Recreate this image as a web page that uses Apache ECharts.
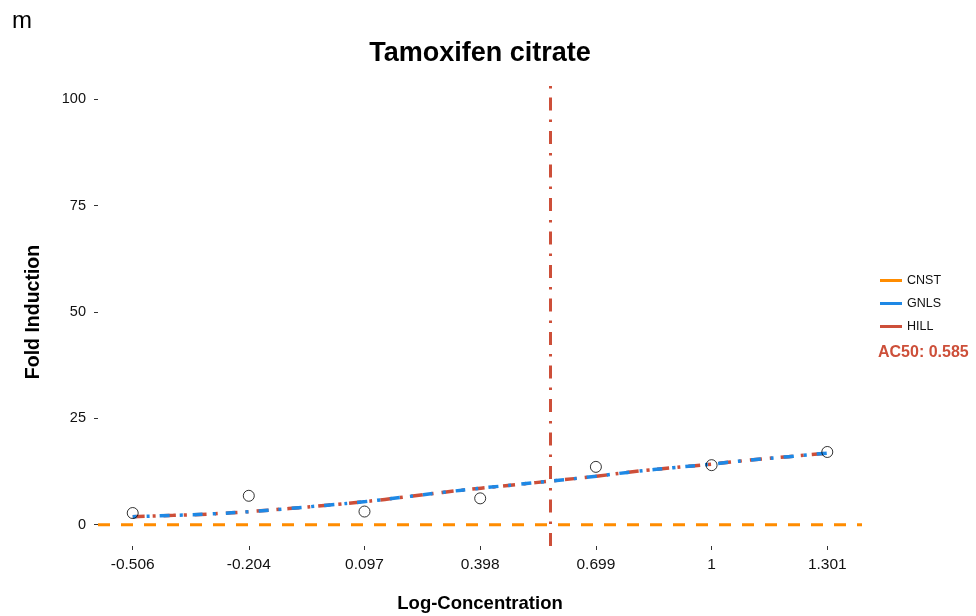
<!DOCTYPE html>
<html>
<head>
<meta charset="utf-8">
<script src="https://cdn.jsdelivr.net/npm/echarts@6/dist/echarts.min.js"></script>
<style>html,body{margin:0;padding:0;background:#fff;}#c{width:976px;height:616px;}</style>
</head>
<body>
<div id="c"></div>
<script>
var xTicks = [-0.506, -0.204, 0.097, 0.398, 0.699, 1, 1.301];
var xTickLabels = ['-0.506', '-0.204', '0.097', '0.398', '0.699', '1', '1.301'];
var yTicks = [0, 25, 50, 75, 100];
var pointX = [-0.506, -0.204, 0.097, 0.398, 0.699, 1, 1.301];
var pointY = [2.75, 6.8, 3.1, 6.2, 13.6, 14.0, 17.1];
var curveX = [-0.506, -0.4, -0.3, -0.2, -0.1, 0, 0.1, 0.2, 0.3, 0.4, 0.5, 0.585, 0.7, 0.8, 0.9, 1.0, 1.1, 1.2, 1.301];
var gnlsY = [1.9, 2.2, 2.55, 3.1, 3.8, 4.6, 5.45, 6.5, 7.6, 8.6, 9.5, 10.3, 11.4, 12.5, 13.4, 14.25, 15.2, 16.0, 16.83];
var hillY = [1.9, 2.2, 2.55, 3.1, 3.8, 4.6, 5.45, 6.5, 7.6, 8.6, 9.5, 10.3, 11.4, 12.5, 13.4, 14.25, 15.2, 16.0, 16.83];
var cnstLevel = 0;
var ac50 = 0.585;
var xRange = [-0.5963, 1.3913];
var yRange = [-5, 105];

var FONT = 'Liberation Sans, Arial, Helvetica, sans-serif';
var ORANGE = '#FF8C00', BLUE = '#1E88E5', RED = '#CD4F39';

function pairs(xs, ys) { return xs.map(function (x, i) { return [x, ys[i]]; }); }

var chart = echarts.init(document.getElementById('c'), null, { renderer: 'canvas' });
chart.setOption({
  animation: false,
  backgroundColor: '#fff',
  title: {
    text: 'Tamoxifen citrate', left: 475, top: 35, textAlign: 'center',
    textStyle: { fontFamily: FONT, fontSize: 27, fontWeight: 'bold', color: '#000' }
  },
  grid: { left: 98, right: 114, top: 78, height: 468, outerBoundsMode: 'none', containLabel: false },
  legend: {
    orient: 'vertical', left: 875, top: 268, itemGap: 8,
    itemWidth: 22, itemHeight: 3, icon: 'rect',
    data: ['CNST', 'GNLS', 'HILL'],
    textStyle: { fontFamily: FONT, fontSize: 12.5, color: '#111', lineHeight: 15 }
  },
  xAxis: {
    type: 'value', min: xRange[0], max: xRange[1],
    name: 'Log-Concentration', nameLocation: 'middle', nameGap: 48,
    nameTextStyle: { fontFamily: FONT, fontSize: 18.5, fontWeight: 'bold', color: '#000' },
    axisLine: { show: false, onZero: false }, splitLine: { show: false },
    axisTick: { show: true, length: 4, lineStyle: { color: '#333' }, customValues: xTicks },
    axisLabel: {
      customValues: xTicks, margin: 11, fontFamily: FONT, fontSize: 15.5, color: '#111',
      formatter: function (v) { var i = xTicks.indexOf(v); return i >= 0 ? xTickLabels[i] : ''; }
    }
  },
  yAxis: {
    type: 'value', min: yRange[0], max: yRange[1],
    name: 'Fold Induction', nameLocation: 'middle', nameGap: 54, nameRotate: 90,
    nameTextStyle: { fontFamily: FONT, fontSize: 19.5, fontWeight: 'bold', color: '#000' },
    axisLine: { show: false, onZero: false }, splitLine: { show: false },
    axisTick: { show: true, length: 4, lineStyle: { color: '#333' }, customValues: yTicks },
    axisLabel: { customValues: yTicks, margin: 12, fontFamily: FONT, fontSize: 14.5, color: '#111' }
  },
  graphic: [
    { type: 'text', left: 12, top: 9, style: { text: 'm', font: '24px ' + FONT, fill: '#000' } },
    { type: 'text', left: 878, top: 345, style: { text: 'AC50: ' + ac50, font: 'bold 16px ' + FONT, fill: RED } }
  ],
  series: [
    {
      name: 'CNST', type: 'line', symbol: 'none', silent: true, z: 2,
      data: [[xRange[0], cnstLevel], [xRange[1], cnstLevel]],
      lineStyle: { color: ORANGE, width: 3, type: [12, 11] }, itemStyle: { color: ORANGE }
    },
    {
      name: 'HILL', type: 'line', symbol: 'none', smooth: true, z: 3,
      data: pairs(curveX, hillY),
      lineStyle: { color: RED, width: 3.5, type: [12, 8, 3, 8] }, itemStyle: { color: RED },
      markLine: {
        silent: true, symbol: 'none', label: { show: false },
        lineStyle: { color: RED, width: 3, type: [13, 9, 2.5, 9] },
        data: [{ xAxis: ac50 }]
      }
    },
    {
      name: 'GNLS', type: 'line', symbol: 'none', smooth: true, z: 4,
      data: pairs(curveX, gnlsY),
      lineStyle: { color: BLUE, width: 3.5, type: [10, 10, 3, 10], dashOffset: 6 }, itemStyle: { color: BLUE }
    },
    {
      name: 'points', type: 'scatter', z: 5,
      data: pairs(pointX, pointY), symbol: 'circle', symbolSize: 11,
      itemStyle: { color: 'rgba(255,255,255,0)', borderColor: '#000', borderWidth: 1 }
    }
  ]
});
</script>
</body>
</html>
